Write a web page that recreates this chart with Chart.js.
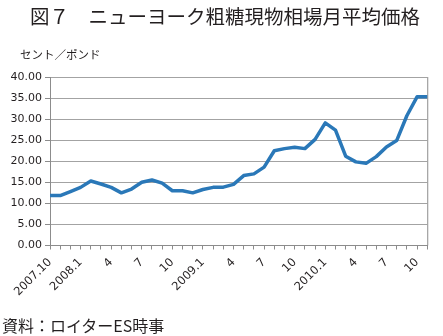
<!DOCTYPE html>
<html><head><meta charset="utf-8">
<script src="https://cdn.jsdelivr.net/npm/chart.js@4/dist/chart.umd.min.js"></script>
<style>
html,body{margin:0;padding:0;background:#fff;}
#wrap{position:relative;width:443px;height:336px;overflow:hidden;}
canvas{position:absolute;left:0;top:0;}
.t{position:absolute;white-space:nowrap;color:#231f20;font-family:"Noto Sans CJK JP","Noto Sans",sans-serif;}
#title{left:30px;top:1px;font-size:19.5px;letter-spacing:0px;}
#ylab{left:20px;top:46px;font-size:11.5px;}
#src{left:2px;top:313px;font-size:16px;}
</style></head>
<body><div id="wrap">
<canvas id="c" width="443" height="336"></canvas>
<div class="t" id="title">図７　ニューヨーク粗糖現物相場月平均価格</div>
<div class="t" id="ylab">セント／ポンド</div>
<div class="t" id="src">資料：ロイターES時事</div>
</div>
<script>
const months = ["2007.10","11","12","2008.1","2","3","4","5","6","7","8","9","10","11","12",
  "2009.1","2","3","4","5","6","7","8","9","10","11","12","2010.1","2","3","4","5","6","7","8","9","10","11"];
const shownLabels = ["2007.10","","","2008.1","","","4","","","7","","","10","","",
  "2009.1","","","4","","","7","","","10","","","2010.1","","","4","","","7","","","10",""];
const prices = [11.85,11.85,12.8,13.8,15.3,14.6,13.8,12.5,13.4,15.0,15.55,14.8,13.0,13.0,12.5,
  13.3,13.8,13.85,14.5,16.6,17.0,18.6,22.5,23.0,23.3,23.0,25.2,29.1,27.4,21.2,19.85,19.5,21.1,23.4,24.9,30.8,35.3,35.3];
const yTicks = [0,5,10,15,20,25,30,35,40];

const borderPlugin = {
  id:'plotBorder',
  beforeDatasetsDraw(chart){
    const {ctx, chartArea:a} = chart;
    ctx.save();
    ctx.strokeStyle='#8c8c8c';ctx.lineWidth=1;
    ctx.beginPath();
    ctx.moveTo(a.right+0.5,a.top);ctx.lineTo(a.right+0.5,a.bottom);
    ctx.stroke();
    ctx.restore();
  }
};

new Chart(document.getElementById('c'),{
  type:'line',
  data:{labels:months,datasets:[{data:prices,borderColor:'#2a78b8',borderWidth:3.5,pointRadius:0,tension:0,fill:false,borderJoinStyle:'round',borderCapStyle:'butt'}]},
  options:{
    responsive:false,animation:false,devicePixelRatio:1,
    layout:{padding:{top:77,right:4,left:0,bottom:0}},
    plugins:{legend:{display:false},tooltip:{enabled:false},title:{display:false}},
    scales:{
      x:{type:'category',offset:false,
        grid:{display:true,drawOnChartArea:false,drawTicks:true,tickLength:4,color:'#8c8c8c',lineWidth:1},
        border:{display:true,color:'#8c8c8c',width:1},
        ticks:{autoSkip:false,maxRotation:45,minRotation:45,padding:6,color:'#231f20',
          font:{family:'"DejaVu Sans"',size:11.5},
          callback:(v,i)=>shownLabels[i]},
        afterFit:(s)=>{s.height=336-245.5;}
      },
      y:{min:0,max:40,
        afterBuildTicks:(s)=>{s.ticks=yTicks.map(v=>({value:v}));},
        grid:{color:'#a3a3a3',lineWidth:1,tickLength:5,drawTicks:true,tickColor:'#8c8c8c'},
        border:{display:true,color:'#8c8c8c',width:1},
        ticks:{padding:3,color:'#231f20',font:{family:'"DejaVu Sans"',size:11},callback:(v)=>v.toFixed(2)},
        afterFit:(s)=>{s.width=50;}
      }
    }
  },
  plugins:[borderPlugin]
});
</script>
</body></html>
